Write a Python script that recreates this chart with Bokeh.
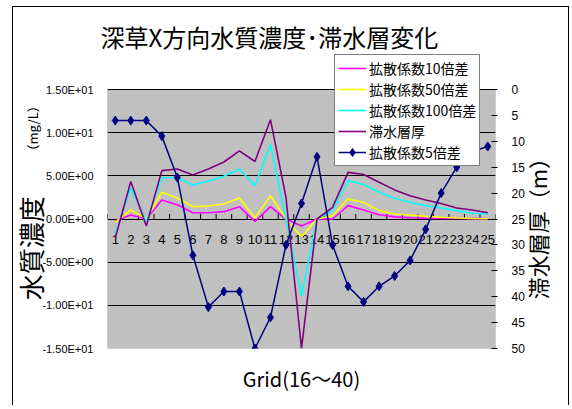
import math
from bokeh.plotting import figure
from bokeh.models import (Range1d, LinearAxis, FixedTicker, Legend, LegendItem, Title,
                          BoxAnnotation)
from bokeh.core.properties import value
from bokeh.embed import file_html
from bokeh.resources import INLINE

# ---------------- data ----------------
grid = list(range(1, 26))
grid_labels = [str(g) for g in grid]
diff_10x = [-0.2, 0.46, 0.0, 2.2, 1.66, 0.73, 0.73, 0.85, 1.43, -0.27, 1.43, 0.0, -0.8,
            0.0, 0.0, 1.55, 1.05, 0.5, 0.25, 0.15, 0.1, 0.06, 0.05, 0.04, 0.03]
diff_50x = [-0.4, 1.05, 0.0, 3.1, 2.44, 1.43, 1.5, 1.74, 2.44, 0.12, 2.7, 0.0, -2.06,
            0.0, 0.38, 2.3, 1.93, 0.97, 0.58, 0.46, 0.3, 0.2, 0.12, 0.06, 0.03]
diff_100x = [-1.7, 3.6, -0.3, 4.77, 4.77, 3.95, 4.37, 4.95, 5.8, 3.87, 8.64, 0.0, -8.9,
             0.0, 0.97, 4.45, 3.99, 3.1, 2.4, 1.93, 1.55, 1.28, 0.97, 0.66, 0.58]
aquifer = [-2.2, 4.34, -0.8, 5.6, 5.8, 5.1, 5.8, 6.6, 7.9, 6.66, 11.5, 2.5, -15.0,
           0.0, 1.35, 5.4, 5.15, 4.26, 3.37, 2.7, 2.2, 1.8, 1.28, 1.05, 0.73]
diff_5x = [6, 6, 6, 9, 17, 32, 42, 39, 39, 50, 44, 30, 22, 13, 30, 38, 41, 38, 36, 33,
           27, 20, 15, 12, 11]

left_ticks = [-15, -10, -5, 0, 5, 10, 15]
left_tick_labels = ["-1.50E+01", "-1.00E+01", "-5.00E+00", "0.00E+00",
                    "5.00E+00", "1.00E+01", "1.50E+01"]
right_ticks = [0, 5, 10, 15, 20, 25, 30, 35, 40, 45, 50]

title_text = "深草X方向水質濃度･滞水層変化"
x_label = "Grid(16～40)"
left_label_main = "水質濃度"
left_label_unit = "（mg/L）"
right_label = "滞水層厚（m）"
names = ["拡散係数10倍差", "拡散係数50倍差", "拡散係数100倍差", "滞水層厚", "拡散係数5倍差"]

JP = "Noto Sans CJK JP"
NUM = "Liberation Sans"

# ---------------- layout ----------------
W, H = 572, 405
PLOT_H = 259          # pixel height of the grey plot area
EXTRA_TOP = 35        # frame extends above the grey area (room for the legend)
C_MIN, C_MAX = -15, 15
T_MIN, T_MAX = 0, 50
c_top = C_MAX + EXTRA_TOP * (C_MAX - C_MIN) / PLOT_H
t_top = T_MIN - EXTRA_TOP * (T_MAX - T_MIN) / PLOT_H

p = figure(width=W, height=H, output_backend="svg", toolbar_location=None,
           x_range=Range1d(0.5, 25.5), y_range=Range1d(C_MIN, c_top),
           min_border_left=107, min_border_right=70, min_border_top=89 - EXTRA_TOP,
           min_border_bottom=57, background_fill_color="white",
           border_fill_color="white")
p.outline_line_color = None
p.stylesheets = [":host { overflow: hidden; }",
                 ":host::after { content: ''; position: absolute; left: 12px; top: 6px;"
                 " width: 555px; height: 600px; border: 1px solid black;"
                 " pointer-events: none; }"]

# grey plot area (drawn beneath the grid lines)
plot_area = BoxAnnotation(left=p.x_range.start, right=p.x_range.end, bottom=C_MIN, top=C_MAX,
                          fill_color="#C0C0C0", fill_alpha=1, line_color="black",
                          line_width=1, level="underlay")
p.center.insert(0, plot_area)

# title
p.title = Title(text=title_text, align="left", offset=-7, standoff=1,
                text_font=JP, text_font_size="24px", text_font_style="normal",
                text_color="black")

# bottom axis: carries only the axis title
xa = p.xaxis[0]
xa.ticker = FixedTicker(ticks=[])
xa.axis_line_color = None
xa.major_tick_line_color = None
xa.minor_tick_line_color = None
xa.axis_label = x_label
xa.axis_label_standoff = 15
xa.axis_label_text_font = JP
xa.axis_label_text_font_size = "20px"
xa.axis_label_text_font_style = "normal"
xa.axis_label_text_color = "black"

# category labels and tick marks on the y = 0 line
p.text(x=grid, y=[0] * len(grid), text=grid_labels, y_offset=16,
       text_align="center", text_baseline="top", text_font=value(NUM),
       text_font_size="13px", text_color="black")
bounds = [g - 0.5 for g in grid] + [grid[-1] + 0.5]
p.ray(x=bounds, y=[0] * len(bounds), length=5, length_units="screen",
      angle=math.pi / 2, line_color="black", line_width=1)

# left axis (tick labels)
ya = p.yaxis[0]
ya.ticker = FixedTicker(ticks=left_ticks)
ya.major_label_overrides = {t: s for t, s in zip(left_ticks, left_tick_labels)}
ya.axis_line_color = None
ya.major_tick_line_color = None
ya.minor_tick_line_color = None
ya.major_label_standoff = 8
ya.major_label_text_font = NUM
ya.major_label_text_font_size = "11px"
ya.major_label_text_color = "black"

p.xgrid.visible = False
p.ygrid.grid_line_color = "black"
p.ygrid.grid_line_width = 1

# left axis titles (big part and unit part), placed as single rotated tick labels
big_pos, unit_pos = -3.4, 10.5
la_big = LinearAxis(ticker=FixedTicker(ticks=[big_pos]),
                    major_label_overrides={big_pos: left_label_main})
la_unit = LinearAxis(ticker=FixedTicker(ticks=[unit_pos]),
                     major_label_overrides={unit_pos: left_label_unit})
for ax, size, so in ((la_big, "26px", -10), (la_unit, "13px", -33)):
    ax.axis_line_color = None
    ax.major_tick_line_color = None
    ax.minor_tick_line_color = None
    ax.major_tick_in = 0
    ax.major_tick_out = 0
    ax.major_label_orientation = "vertical"
    ax.major_label_standoff = so
    ax.major_label_text_font = JP
    ax.major_label_text_font_size = size
    ax.major_label_text_color = "black"
    p.add_layout(ax, "left")

# right axis (inverted)
p.extra_y_ranges = {"thick": Range1d(T_MAX, t_top)}
ra = LinearAxis(y_range_name="thick", ticker=FixedTicker(ticks=right_ticks))
ra.axis_line_color = None
ra.major_tick_line_color = "black"
ra.major_tick_in = 4
ra.major_tick_out = 2
ra.minor_tick_line_color = None
ra.major_label_standoff = 14
ra.major_label_text_font = NUM
ra.major_label_text_font_size = "12px"
ra.major_label_text_color = "black"
p.add_layout(ra, "right")

right_pos = 40.5      # lower end of the rotated right-hand title
ra_title = LinearAxis(y_range_name="thick", ticker=FixedTicker(ticks=[right_pos]),
                      major_label_overrides={right_pos: right_label})
ra_title.axis_line_color = None
ra_title.major_tick_line_color = None
ra_title.minor_tick_line_color = None
ra_title.major_tick_in = 0
ra_title.major_tick_out = 0
ra_title.major_label_orientation = math.pi / 2
ra_title.major_label_standoff = 10
ra_title.major_label_text_line_height = 0.5
ra_title.major_label_text_font = JP
ra_title.major_label_text_font_size = "22px"
ra_title.major_label_text_color = "black"
p.add_layout(ra_title, "right")

# series
r1 = p.line(grid, diff_10x, line_color="#FF00FF", line_width=1.6)
r2 = p.line(grid, diff_50x, line_color="#FFFF00", line_width=1.6)
r3 = p.line(grid, diff_100x, line_color="#00FFFF", line_width=1.6)
r4 = p.line(grid, aquifer, line_color="#800080", line_width=1.6)
r5 = p.line(grid, diff_5x, line_color="#000080", line_width=1.5, y_range_name="thick")
r6 = p.scatter(grid, diff_5x, marker="diamond", size=9, fill_color="#000080",
               line_color="#000080", y_range_name="thick")

legend = Legend(items=[LegendItem(label=names[0], renderers=[r1]),
                       LegendItem(label=names[1], renderers=[r2]),
                       LegendItem(label=names[2], renderers=[r3]),
                       LegendItem(label=names[3], renderers=[r4]),
                       LegendItem(label=names[4], renderers=[r5, r6])],
                location=(227, 182), orientation="vertical")
legend.border_line_color = "black"
legend.border_line_width = 1
legend.background_fill_color = "white"
legend.background_fill_alpha = 1
legend.padding = 3
legend.spacing = 1
legend.margin = 0
legend.label_height = 20
legend.glyph_height = 20
legend.glyph_width = 28
legend.label_standoff = 3
legend.label_text_font = JP
legend.label_text_font_size = "14px"
legend.label_text_color = "black"
p.add_layout(legend, "center")

open("out.html", "w").write(file_html(p, INLINE))
